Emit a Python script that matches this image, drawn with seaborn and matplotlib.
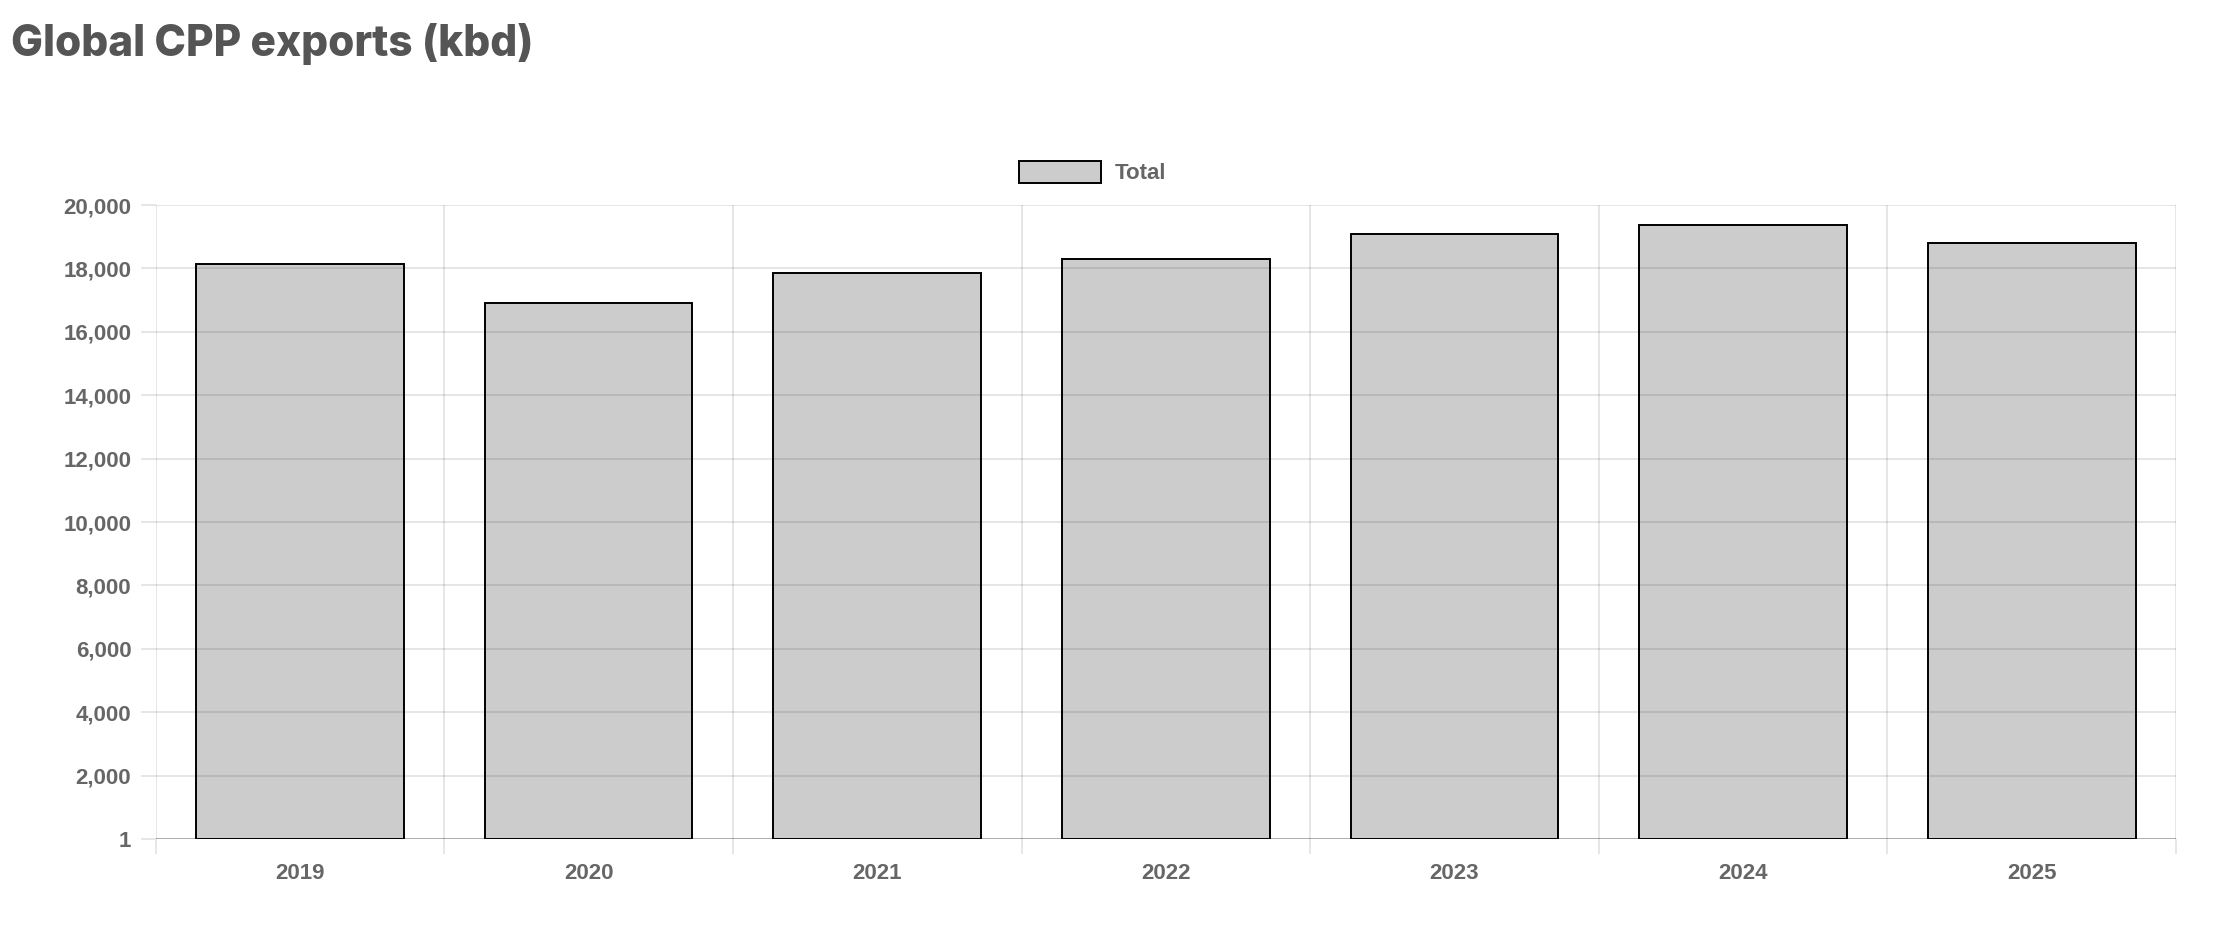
import matplotlib
matplotlib.use("Agg")
import matplotlib.pyplot as plt
import matplotlib.patches as mpatches
from matplotlib.ticker import FixedLocator, FuncFormatter
import seaborn as sns
import pandas as pd

# Data
years = ["2019", "2020", "2021", "2022", "2023", "2024", "2025"]
total_kbd = [18150, 16920, 17850, 18300, 19100, 19370, 18810]
y_ticks = [1, 2000, 4000, 6000, 8000, 10000, 12000, 14000, 16000, 18000, 20000]

df = pd.DataFrame({"year": years, "total": total_kbd})

sns.set_theme(style="white")
plt.rcParams["font.family"] = ["Liberation Sans", "DejaVu Sans"]

text_col = "#666666"
fs = 16

fig = plt.figure(figsize=(22.2, 9.34), dpi=100)
ax = fig.add_axes([0.0701, 0.1017, 0.9101, 0.6788])

sns.barplot(data=df, x="year", y="total", ax=ax, width=0.72,
            color="#cccccc", edgecolor="black", linewidth=1.4, zorder=1)
for p in ax.patches:
    p.set_facecolor((0, 0, 0, 0.2))
    p.set_edgecolor("black")

ax.set_ylim(1, 20000)
ax.set_xlim(-0.5, len(years) - 0.5)
ax.yaxis.set_major_locator(FixedLocator(y_ticks))
ax.yaxis.set_major_formatter(FuncFormatter(lambda v, _: f"{int(v):,}"))

# category boundary lines
ax.xaxis.set_minor_locator(FixedLocator([i - 0.5 for i in range(len(years) + 1)]))
ax.grid(False)
ax.grid(True, which="minor", axis="x", color="black", alpha=0.1, linewidth=1.4, zorder=2)
ax.grid(True, which="major", axis="y", color="black", alpha=0.1, linewidth=1.4, zorder=2)
ax.set_axisbelow(False)

for s in ax.spines.values():
    s.set_visible(False)
ax.axhline(1, color="black", alpha=0.25, linewidth=1.4, zorder=3)

ax.tick_params(axis="y", which="major", length=11, width=1.4, color="#e6e6e6",
               pad=6.5, labelsize=fs, labelcolor=text_col, left=True)
ax.tick_params(axis="x", which="major", length=0, pad=17.5,
               labelsize=fs, labelcolor=text_col)
ax.tick_params(axis="x", which="minor", length=11, width=1.4, color="#e6e6e6",
               bottom=True)
for lbl in ax.get_xticklabels() + ax.get_yticklabels():
    lbl.set_fontweight("bold")

ax.set_xlabel("")
ax.set_ylabel("")

# legend
handle = mpatches.Patch(facecolor=(0, 0, 0, 0.2), edgecolor="black",
                        linewidth=1.4, label="Total")
leg = fig.legend(handles=[handle], loc="center", bbox_to_anchor=(0.4921, 0.815),
                 frameon=False, handlelength=3.7, handleheight=1.1,
                 handletextpad=0.6, prop={"weight": "bold", "size": fs})
for t in leg.get_texts():
    t.set_color(text_col)

fig.text(0.005, 0.953, "Global CPP exports (kbd)", ha="left", va="center",
         fontsize=30.5, fontweight="heavy", color="#555555",
         family=["Inter", "DejaVu Sans"])

fig.savefig("out.png", dpi=100)
